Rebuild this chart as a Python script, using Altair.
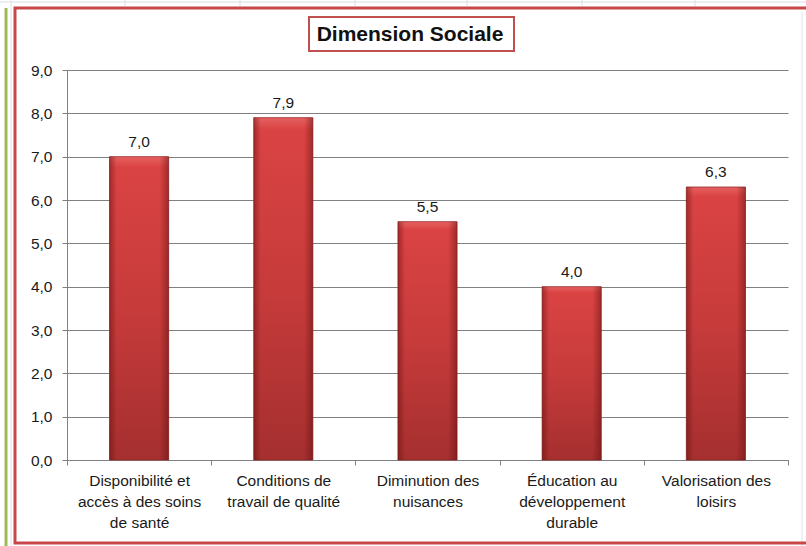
import altair as alt
import pandas as pd

# ---- data ----
categories = [
    "Disponibilité et\naccès à des soins\nde santé",
    "Conditions de\ntravail de qualité",
    "Diminution des\nnuisances",
    "Éducation au\ndéveloppement\ndurable",
    "Valorisation des\nloisirs",
]
values = [7.0, 7.9, 5.5, 4.0, 6.3]
y_ticks = [0, 1, 2, 3, 4, 5, 6, 7, 8, 9]
title_text = "Dimension Sociale"

df = pd.DataFrame({
    "cat": categories,
    "val": values,
    "lab": [f"{v:.1f}".replace(".", ",") for v in values],
})
one = pd.DataFrame({"d": [0]})

FONT = "Liberation Sans"
W, H = 721, 390
OX, OY = 67, 70  # plot origin inside the page

x_enc = alt.X(
    "cat:N", sort=categories,
    scale=alt.Scale(paddingInner=0, paddingOuter=0),
    axis=alt.Axis(
        title=None, labelAngle=0, labelExpr="split(datum.label, '\\n')",
        tickBand="extent", tickSize=5, tickColor="#808080",
        domainColor="#808080", grid=False,
        labelFont=FONT, labelFontSize=15.5, labelColor="#1a1a1a",
        labelLineHeight=21, labelPadding=8, labelBaseline="top",
    ),
)
y_enc = alt.Y(
    "val:Q",
    scale=alt.Scale(domain=[0, 9], nice=False, zero=True),
    axis=alt.Axis(
        title=None, values=y_ticks,
        labelExpr="replace(format(datum.value, '.1f'), '.', ',')",
        grid=True, gridColor="#808080", gridWidth=1.2,
        domainColor="#808080", tickColor="#808080", tickSize=5,
        labelFont=FONT, labelFontSize=15.5, labelColor="#1a1a1a", labelPadding=10,
    ),
)

vert = alt.Gradient(
    gradient="linear", x1=0, x2=0, y1=0, y2=1,
    stops=[
        alt.GradientStop(color="#e66060", offset=0),
        alt.GradientStop(color="#da4343", offset=0.035),
        alt.GradientStop(color="#c73b3b", offset=0.5),
        alt.GradientStop(color="#a52f2f", offset=1),
    ],
)
horiz = alt.Gradient(
    gradient="linear", x1=0, x2=1, y1=0, y2=0,
    stops=[
        alt.GradientStop(color="rgba(90,10,10,0.45)", offset=0),
        alt.GradientStop(color="rgba(90,10,10,0)", offset=0.12),
        alt.GradientStop(color="rgba(90,10,10,0)", offset=0.85),
        alt.GradientStop(color="rgba(90,10,10,0.45)", offset=1),
    ],
)

bars = alt.Chart(df).mark_bar(
    color=vert, width=alt.RelativeBandSize(0.41), stroke="#962a2a", strokeWidth=0.8
).encode(x=x_enc, y=y_enc)
shade = alt.Chart(df).mark_bar(
    color=horiz, width=alt.RelativeBandSize(0.41)
).encode(x=alt.X("cat:N", sort=categories), y="val:Q")
labels = alt.Chart(df).mark_text(
    font=FONT, fontSize=15.5, color="#1a1a1a", baseline="alphabetic", dy=-10
).encode(x=alt.X("cat:N", sort=categories), y="val:Q", text="lab:N")


def rect(x, x2, y, y2, **kw):
    return alt.Chart(one).mark_rect(**kw).encode(
        x=alt.value(x - OX), x2=alt.value(x2 - OX),
        y=alt.value(y - OY), y2=alt.value(y2 - OY))


def rule(x, x2, y, y2, **kw):
    return alt.Chart(one).mark_rule(**kw).encode(
        x=alt.value(x - OX), x2=alt.value(x2 - OX),
        y=alt.value(y - OY), y2=alt.value(y2 - OY))


deco = [
    rule(0, 806, 2, 2, color="#d8dde6", strokeWidth=1),
    rule(11, 11, 0, 546, color="#e2e2e2", strokeWidth=1),
    rule(802, 802, 12, 546, color="#e2e2e2", strokeWidth=1),
]
for gx in [125, 240, 355, 467, 582, 695]:
    deco.append(rule(gx, gx, 0, 6, color="#d8dde6", strokeWidth=1))
deco.append(rule(6, 6, 8, 546, color="#9bbb59", strokeWidth=3))
deco.append(rect(15, 812, 8, 543, fill="white", fillOpacity=0,
                 stroke="#c8484a", strokeWidth=3))

title_box = rect(309, 514, 17, 51, fill="white", stroke="#c0504d", strokeWidth=2)
title = alt.Chart(one).mark_text(
    text=title_text, font=FONT, fontSize=21, fontWeight="bold", color="#111111",
    align="center", baseline="middle",
).encode(x=alt.value(410 - OX), y=alt.value(35 - OY))

chart = alt.layer(*deco, bars, shade, labels, title_box, title).properties(
    width=W, height=H,
    autosize=alt.AutoSizeParams(type="none"),
    padding={"left": OX, "top": OY, "right": 806 - OX - W, "bottom": 546 - OY - H},
    background="white",
).configure_view(stroke=None)

chart.save("out.html", embed_options={"renderer": "svg", "actions": False})
